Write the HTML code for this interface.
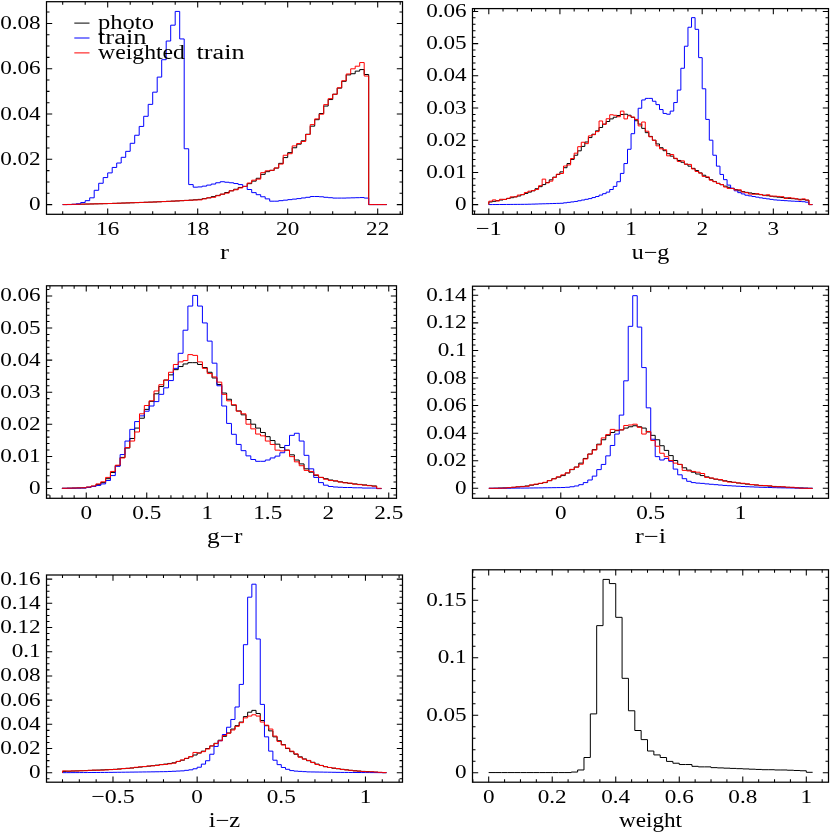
<!DOCTYPE html>
<html><head><meta charset="utf-8"><title>histograms</title>
<style>html,body{margin:0;padding:0;background:#fff;}body{width:830px;height:832px;overflow:hidden;font-family:"Liberation Serif",serif;}</style>
</head><body>
<svg width="830" height="832" viewBox="0 0 830 832" style="display:block;will-change:transform" font-family="'Liberation Serif', serif" font-size="19.8" fill="#000">
<rect x="0" y="0" width="830" height="832" fill="#fff"/>
<polyline fill="none" stroke="#000" stroke-width="1" stroke-linejoin="miter" points="62.70,204.60 62.70,204.57 67.20,204.57 67.20,204.47 71.70,204.47 71.70,204.36 76.20,204.36 76.20,204.26 80.70,204.26 80.70,204.15 85.20,204.15 85.20,204.05 89.70,204.05 89.70,203.95 94.20,203.95 94.20,203.84 98.70,203.84 98.70,203.74 103.20,203.74 103.20,203.63 107.70,203.63 107.70,203.53 112.20,203.53 112.20,203.37 116.70,203.37 116.70,203.22 121.20,203.22 121.20,203.06 125.70,203.06 125.70,202.91 130.20,202.91 130.20,202.75 134.70,202.75 134.70,202.60 139.20,202.60 139.20,202.44 143.70,202.44 143.70,202.28 148.20,202.28 148.20,202.13 152.70,202.13 152.70,201.97 157.20,201.97 157.20,201.77 161.70,201.77 161.70,201.56 166.20,201.56 166.20,201.35 170.70,201.35 170.70,201.14 175.20,201.14 175.20,200.93 179.70,200.93 179.70,200.67 184.20,200.67 184.20,200.42 188.70,200.42 188.70,200.16 193.20,200.16 193.20,199.77 197.70,199.77 197.70,199.38 202.20,199.38 202.20,198.60 206.70,198.60 206.70,197.82 211.20,197.82 211.20,196.61 215.70,196.61 215.70,195.40 220.20,195.40 220.20,194.18 224.70,194.18 224.70,192.50 229.20,192.50 229.20,190.81 233.70,190.81 233.70,189.25 238.20,189.25 238.20,187.44 242.70,187.44 242.70,186.46 247.20,186.46 247.20,183.67 251.70,183.67 251.70,181.14 256.20,181.14 256.20,178.28 260.70,178.28 260.70,174.33 265.20,174.33 265.20,171.66 269.70,171.66 269.70,170.37 274.20,170.37 274.20,168.09 278.70,168.09 278.70,163.36 283.20,163.36 283.20,157.58 287.70,157.58 287.70,152.65 292.20,152.65 292.20,147.78 296.70,147.78 296.70,144.15 301.20,144.15 301.20,140.77 305.70,140.77 305.70,134.28 310.20,134.28 310.20,126.17 314.70,126.17 314.70,119.68 319.20,119.68 319.20,113.51 323.70,113.51 323.70,106.05 328.20,106.05 328.20,99.56 332.70,99.56 332.70,94.24 337.20,94.24 337.20,88.14 341.70,88.14 341.70,81.32 346.20,81.32 346.20,74.90 350.70,74.90 350.70,73.73 355.20,73.73 355.20,71.13 359.70,71.13 359.70,69.57 364.20,69.57 364.20,74.51 368.70,74.51 368.70,204.57 373.20,204.57 373.20,204.57 377.70,204.57 377.70,204.57 382.20,204.57 382.20,204.57 386.70,204.57"/>
<polyline fill="none" stroke="#0000ff" stroke-width="1" stroke-linejoin="miter" points="62.70,204.60 62.70,204.57 67.20,204.57 67.20,204.57 71.70,204.57 71.70,204.31 76.20,204.31 76.20,203.79 80.70,203.79 80.70,202.49 85.20,202.49 85.20,200.67 89.70,200.67 89.70,197.82 94.20,197.82 94.20,190.29 98.70,190.29 98.70,183.28 103.20,183.28 103.20,177.57 107.70,177.57 107.70,172.90 112.20,172.90 112.20,167.45 116.70,167.45 116.70,163.03 121.20,163.03 121.20,157.32 125.70,157.32 125.70,151.35 130.20,151.35 130.20,143.30 134.70,143.30 134.70,135.25 139.20,135.25 139.20,126.43 143.70,126.43 143.70,116.30 148.20,116.30 148.20,104.36 152.70,104.36 152.70,92.16 157.20,92.16 157.20,77.10 161.70,77.10 161.70,59.71 166.20,59.71 166.20,41.02 170.70,41.02 170.70,25.18 175.20,25.18 175.20,11.42 179.70,11.42 179.70,38.94 184.20,38.94 184.20,148.75 188.70,148.75 188.70,184.58 193.20,184.58 193.20,187.18 197.70,187.18 197.70,186.92 202.20,186.92 202.20,186.14 206.70,186.14 206.70,185.10 211.20,185.10 211.20,184.06 215.70,184.06 215.70,182.76 220.20,182.76 220.20,181.72 224.70,181.72 224.70,182.24 229.20,182.24 229.20,182.76 233.70,182.76 233.70,183.54 238.20,183.54 238.20,184.58 242.70,184.58 242.70,186.40 247.20,186.40 247.20,189.51 251.70,189.51 251.70,192.63 256.20,192.63 256.20,194.70 260.70,194.70 260.70,196.78 265.20,196.78 265.20,198.86 269.70,198.86 269.70,201.19 274.20,201.19 274.20,201.19 278.70,201.19 278.70,200.67 283.20,200.67 283.20,200.16 287.70,200.16 287.70,199.64 292.20,199.64 292.20,199.12 296.70,199.12 296.70,198.60 301.20,198.60 301.20,197.95 305.70,197.95 305.70,197.30 310.20,197.30 310.20,196.52 314.70,196.52 314.70,196.52 319.20,196.52 319.20,196.78 323.70,196.78 323.70,197.30 328.20,197.30 328.20,197.69 332.70,197.69 332.70,198.08 337.20,198.08 337.20,198.08 341.70,198.08 341.70,198.08 346.20,198.08 346.20,197.95 350.70,197.95 350.70,197.82 355.20,197.82 355.20,197.69 359.70,197.69 359.70,197.56 364.20,197.56 364.20,198.08 368.70,198.08 368.70,204.57 373.20,204.57 373.20,204.57 377.70,204.57 377.70,204.57 382.20,204.57 382.20,204.57 386.70,204.57"/>
<polyline fill="none" stroke="#ff0000" stroke-width="1" stroke-linejoin="miter" points="62.70,204.60 62.70,204.57 67.20,204.57 67.20,204.47 71.70,204.47 71.70,204.36 76.20,204.36 76.20,204.26 80.70,204.26 80.70,204.15 85.20,204.15 85.20,204.05 89.70,204.05 89.70,203.95 94.20,203.95 94.20,203.84 98.70,203.84 98.70,203.74 103.20,203.74 103.20,203.63 107.70,203.63 107.70,203.53 112.20,203.53 112.20,203.37 116.70,203.37 116.70,203.22 121.20,203.22 121.20,203.06 125.70,203.06 125.70,202.91 130.20,202.91 130.20,202.75 134.70,202.75 134.70,202.60 139.20,202.60 139.20,202.44 143.70,202.44 143.70,202.28 148.20,202.28 148.20,202.13 152.70,202.13 152.70,201.97 157.20,201.97 157.20,201.77 161.70,201.77 161.70,201.56 166.20,201.56 166.20,201.35 170.70,201.35 170.70,201.14 175.20,201.14 175.20,200.93 179.70,200.93 179.70,200.67 184.20,200.67 184.20,200.42 188.70,200.42 188.70,200.16 193.20,200.16 193.20,200.03 197.70,200.03 197.70,199.90 202.20,199.90 202.20,198.86 206.70,198.86 206.70,197.82 211.20,197.82 211.20,197.30 215.70,197.30 215.70,195.74 220.20,195.74 220.20,194.18 224.70,194.18 224.70,193.15 229.20,193.15 229.20,190.81 233.70,190.81 233.70,189.77 238.20,189.77 238.20,187.95 242.70,187.95 242.70,186.40 247.20,186.40 247.20,183.02 251.70,183.02 251.70,180.17 256.20,180.17 256.20,179.13 260.70,179.13 260.70,172.64 265.20,172.64 265.20,170.82 269.70,170.82 269.70,170.30 274.20,170.30 274.20,167.96 278.70,167.96 278.70,164.07 283.20,164.07 283.20,155.24 287.70,155.24 287.70,153.69 292.20,153.69 292.20,145.90 296.70,145.90 296.70,143.56 301.20,143.56 301.20,141.48 305.70,141.48 305.70,134.48 310.20,134.48 310.20,124.61 314.70,124.61 314.70,118.90 319.20,118.90 319.20,114.23 323.70,114.23 323.70,104.62 328.20,104.62 328.20,98.65 332.70,98.65 332.70,94.24 337.20,94.24 337.20,87.75 341.70,87.75 341.70,80.74 346.20,80.74 346.20,73.99 350.70,73.99 350.70,68.80 355.20,68.80 355.20,66.20 359.70,66.20 359.70,62.56 364.20,62.56 364.20,76.06 368.70,76.06 368.70,204.57 373.20,204.57 373.20,204.57 377.70,204.57 377.70,204.57 382.20,204.57 382.20,204.57 386.70,204.57"/>
<path d="M62.70 214.30v-3.00M62.70 1.70v3.00M85.20 214.30v-3.00M85.20 1.70v3.00M107.70 214.30v-5.70M107.70 1.70v5.70M130.20 214.30v-3.00M130.20 1.70v3.00M152.70 214.30v-3.00M152.70 1.70v3.00M175.20 214.30v-3.00M175.20 1.70v3.00M197.70 214.30v-5.70M197.70 1.70v5.70M220.20 214.30v-3.00M220.20 1.70v3.00M242.70 214.30v-3.00M242.70 1.70v3.00M265.20 214.30v-3.00M265.20 1.70v3.00M287.70 214.30v-5.70M287.70 1.70v5.70M310.20 214.30v-3.00M310.20 1.70v3.00M332.70 214.30v-3.00M332.70 1.70v3.00M355.20 214.30v-3.00M355.20 1.70v3.00M377.70 214.30v-5.70M377.70 1.70v5.70M400.20 214.30v-3.00M400.20 1.70v3.00M46.50 204.60h5.70M402.50 204.60h-5.70M46.50 193.28h3.00M402.50 193.28h-3.00M46.50 181.95h3.00M402.50 181.95h-3.00M46.50 170.62h3.00M402.50 170.62h-3.00M46.50 159.30h5.70M402.50 159.30h-5.70M46.50 147.97h3.00M402.50 147.97h-3.00M46.50 136.65h3.00M402.50 136.65h-3.00M46.50 125.32h3.00M402.50 125.32h-3.00M46.50 114.00h5.70M402.50 114.00h-5.70M46.50 102.67h3.00M402.50 102.67h-3.00M46.50 91.35h3.00M402.50 91.35h-3.00M46.50 80.02h3.00M402.50 80.02h-3.00M46.50 68.70h5.70M402.50 68.70h-5.70M46.50 57.38h3.00M402.50 57.38h-3.00M46.50 46.05h3.00M402.50 46.05h-3.00M46.50 34.72h3.00M402.50 34.72h-3.00M46.50 23.40h5.70M402.50 23.40h-5.70M46.50 12.07h3.00M402.50 12.07h-3.00" stroke="#000" stroke-width="1.05" fill="none"/>
<rect x="46.50" y="1.70" width="356.00" height="212.60" fill="none" stroke="#000" stroke-width="1.25"/>
<text x="107.70" y="235.00" text-anchor="middle" textLength="23.17" lengthAdjust="spacingAndGlyphs">16</text>
<text x="197.70" y="235.00" text-anchor="middle" textLength="23.17" lengthAdjust="spacingAndGlyphs">18</text>
<text x="287.70" y="235.00" text-anchor="middle" textLength="23.17" lengthAdjust="spacingAndGlyphs">20</text>
<text x="377.70" y="235.00" text-anchor="middle" textLength="23.17" lengthAdjust="spacingAndGlyphs">22</text>
<text x="40.70" y="210.10" text-anchor="end" textLength="11.58" lengthAdjust="spacingAndGlyphs">0</text>
<text x="40.70" y="164.80" text-anchor="end" textLength="40.54" lengthAdjust="spacingAndGlyphs">0.02</text>
<text x="40.70" y="119.50" text-anchor="end" textLength="40.54" lengthAdjust="spacingAndGlyphs">0.04</text>
<text x="40.70" y="74.20" text-anchor="end" textLength="40.54" lengthAdjust="spacingAndGlyphs">0.06</text>
<text x="40.70" y="28.90" text-anchor="end" textLength="40.54" lengthAdjust="spacingAndGlyphs">0.08</text>
<text x="224.50" y="258.90" font-size="20.5" text-anchor="middle" textLength="9.00" lengthAdjust="spacingAndGlyphs">r</text>
<polyline fill="none" stroke="#000" stroke-width="1" stroke-linejoin="miter" points="488.80,204.60 488.80,201.97 492.36,201.97 492.36,201.32 495.91,201.32 495.91,200.67 499.47,200.67 499.47,200.03 503.03,200.03 503.03,199.38 506.58,199.38 506.58,198.53 510.14,198.53 510.14,197.69 513.70,197.69 513.70,196.85 517.25,196.85 517.25,196.00 520.81,196.00 520.81,194.70 524.37,194.70 524.37,193.41 527.92,193.41 527.92,192.11 531.48,192.11 531.48,190.81 535.03,190.81 535.03,188.73 538.59,188.73 538.59,186.66 542.15,186.66 542.15,184.58 545.70,184.58 545.70,182.50 549.26,182.50 549.26,179.84 552.82,179.84 552.82,177.18 556.37,177.18 556.37,174.52 559.93,174.52 559.93,171.86 563.49,171.86 563.49,167.71 567.04,167.71 567.04,163.55 570.60,163.55 570.60,159.40 574.16,159.40 574.16,155.24 577.71,155.24 577.71,150.83 581.27,150.83 581.27,146.42 584.83,146.42 584.83,142.00 588.38,142.00 588.38,137.59 591.94,137.59 591.94,134.22 595.50,134.22 595.50,130.84 599.05,130.84 599.05,127.47 602.61,127.47 602.61,124.09 606.16,124.09 606.16,121.50 609.72,121.50 609.72,118.90 613.28,118.90 613.28,117.21 616.83,117.21 616.83,115.52 620.39,115.52 620.39,114.49 623.95,114.49 623.95,114.23 627.50,114.23 627.50,115.26 631.06,115.26 631.06,117.34 634.62,117.34 634.62,120.72 638.17,120.72 638.17,124.09 641.73,124.09 641.73,128.37 645.29,128.37 645.29,132.66 648.84,132.66 648.84,136.42 652.40,136.42 652.40,140.19 655.96,140.19 655.96,143.95 659.51,143.95 659.51,147.72 663.07,147.72 663.07,150.70 666.62,150.70 666.62,153.69 670.18,153.69 670.18,156.15 673.74,156.15 673.74,158.62 677.29,158.62 677.29,160.44 680.85,160.44 680.85,162.25 684.41,162.25 684.41,164.20 687.96,164.20 687.96,166.15 691.52,166.15 691.52,168.35 695.08,168.35 695.08,170.56 698.63,170.56 698.63,172.90 702.19,172.90 702.19,175.23 705.75,175.23 705.75,177.44 709.30,177.44 709.30,179.65 712.86,179.65 712.86,181.46 716.42,181.46 716.42,183.28 719.97,183.28 719.97,184.71 723.53,184.71 723.53,186.14 727.09,186.14 727.09,187.31 730.64,187.31 730.64,188.47 734.20,188.47 734.20,189.64 737.75,189.64 737.75,190.81 741.31,190.81 741.31,191.59 744.87,191.59 744.87,192.37 748.42,192.37 748.42,192.95 751.98,192.95 751.98,193.54 755.54,193.54 755.54,194.12 759.09,194.12 759.09,194.70 762.65,194.70 762.65,195.22 766.21,195.22 766.21,195.74 769.76,195.74 769.76,196.26 773.32,196.26 773.32,196.78 776.88,196.78 776.88,197.17 780.43,197.17 780.43,197.56 783.99,197.56 783.99,197.95 787.55,197.95 787.55,198.34 791.10,198.34 791.10,198.66 794.66,198.66 794.66,198.99 798.22,198.99 798.22,199.31 801.77,199.31 801.77,199.64 805.33,199.64 805.33,200.16 808.88,200.16 808.88,204.57 812.44,204.57"/>
<polyline fill="none" stroke="#0000ff" stroke-width="1" stroke-linejoin="miter" points="488.80,204.60 488.80,204.57 492.36,204.57 492.36,204.54 495.91,204.54 495.91,204.52 499.47,204.52 499.47,204.49 503.03,204.49 503.03,204.47 506.58,204.47 506.58,204.44 510.14,204.44 510.14,204.41 513.70,204.41 513.70,204.39 517.25,204.39 517.25,204.36 520.81,204.36 520.81,204.34 524.37,204.34 524.37,204.31 527.92,204.31 527.92,204.21 531.48,204.21 531.48,204.10 535.03,204.10 535.03,204.00 538.59,204.00 538.59,203.89 542.15,203.89 542.15,203.79 545.70,203.79 545.70,203.69 549.26,203.69 549.26,203.58 552.82,203.58 552.82,203.48 556.37,203.48 556.37,203.37 559.93,203.37 559.93,203.27 563.49,203.27 563.49,202.82 567.04,202.82 567.04,202.36 570.60,202.36 570.60,201.91 574.16,201.91 574.16,201.45 577.71,201.45 577.71,200.74 581.27,200.74 581.27,200.03 584.83,200.03 584.83,199.31 588.38,199.31 588.38,198.60 591.94,198.60 591.94,197.56 595.50,197.56 595.50,196.52 599.05,196.52 599.05,195.09 602.61,195.09 602.61,193.67 606.16,193.67 606.16,192.11 609.72,192.11 609.72,189.51 613.28,189.51 613.28,186.40 616.83,186.40 616.83,181.72 620.39,181.72 620.39,173.42 623.95,173.42 623.95,163.55 627.50,163.55 627.50,149.27 631.06,149.27 631.06,133.70 634.62,133.70 634.62,119.42 638.17,119.42 638.17,108.26 641.73,108.26 641.73,99.95 645.29,99.95 645.29,98.39 648.84,98.39 648.84,98.39 652.40,98.39 652.40,101.25 655.96,101.25 655.96,104.62 659.51,104.62 659.51,109.55 663.07,109.55 663.07,113.45 666.62,113.45 666.62,114.23 670.18,114.23 670.18,111.11 673.74,111.11 673.74,102.54 677.29,102.54 677.29,90.08 680.85,90.08 680.85,68.28 684.41,68.28 684.41,46.21 687.96,46.21 687.96,27.26 691.52,27.26 691.52,17.65 695.08,17.65 695.08,29.34 698.63,29.34 698.63,57.63 702.19,57.63 702.19,88.79 705.75,88.79 705.75,119.42 709.30,119.42 709.30,140.19 712.86,140.19 712.86,155.24 716.42,155.24 716.42,166.15 719.97,166.15 719.97,174.45 723.53,174.45 723.53,179.65 727.09,179.65 727.09,185.10 730.64,185.10 730.64,188.21 734.20,188.21 734.20,190.81 737.75,190.81 737.75,192.63 741.31,192.63 741.31,193.93 744.87,193.93 744.87,195.22 748.42,195.22 748.42,195.87 751.98,195.87 751.98,196.52 755.54,196.52 755.54,197.17 759.09,197.17 759.09,197.82 762.65,197.82 762.65,198.34 766.21,198.34 766.21,198.86 769.76,198.86 769.76,199.38 773.32,199.38 773.32,199.90 776.88,199.90 776.88,200.16 780.43,200.16 780.43,200.42 783.99,200.42 783.99,200.67 787.55,200.67 787.55,200.93 791.10,200.93 791.10,201.13 794.66,201.13 794.66,201.32 798.22,201.32 798.22,201.52 801.77,201.52 801.77,201.71 805.33,201.71 805.33,202.23 808.88,202.23 808.88,204.57 812.44,204.57"/>
<polyline fill="none" stroke="#ff0000" stroke-width="1" stroke-linejoin="miter" points="488.80,204.60 488.80,201.19 492.36,201.19 492.36,199.90 495.91,199.90 495.91,200.94 499.47,200.94 499.47,199.25 503.03,199.25 503.03,199.44 506.58,199.44 506.58,198.28 510.14,198.28 510.14,196.83 513.70,196.83 513.70,196.86 517.25,196.86 517.25,195.06 520.81,195.06 520.81,194.56 524.37,194.56 524.37,192.46 527.92,192.46 527.92,191.18 531.48,191.18 531.48,190.63 535.03,190.63 535.03,189.54 538.59,189.54 538.59,185.69 542.15,185.69 542.15,179.13 545.70,179.13 545.70,182.86 549.26,182.86 549.26,181.17 552.82,181.17 552.82,177.42 556.37,177.42 556.37,174.18 559.93,174.18 559.93,173.49 563.49,173.49 563.49,166.04 567.04,166.04 567.04,164.95 570.60,164.95 570.60,158.53 574.16,158.53 574.16,153.17 577.71,153.17 577.71,146.68 581.27,146.68 581.27,142.26 584.83,142.26 584.83,143.63 588.38,143.63 588.38,135.87 591.94,135.87 591.94,134.67 595.50,134.67 595.50,131.64 599.05,131.64 599.05,120.98 602.61,120.98 602.61,124.39 606.16,124.39 606.16,118.74 609.72,118.74 609.72,114.75 613.28,114.75 613.28,115.29 616.83,115.29 616.83,116.72 620.39,116.72 620.39,111.11 623.95,111.11 623.95,118.90 627.50,118.90 627.50,115.83 631.06,115.83 631.06,117.04 634.62,117.04 634.62,119.45 638.17,119.45 638.17,125.90 641.73,125.90 641.73,122.01 645.29,122.01 645.29,131.21 648.84,131.21 648.84,136.83 652.40,136.83 652.40,140.32 655.96,140.32 655.96,145.83 659.51,145.83 659.51,148.82 663.07,148.82 663.07,149.72 666.62,149.72 666.62,155.83 670.18,155.83 670.18,154.50 673.74,154.50 673.74,158.28 677.29,158.28 677.29,161.49 680.85,161.49 680.85,160.87 684.41,160.87 684.41,164.16 687.96,164.16 687.96,164.42 691.52,164.42 691.52,168.96 695.08,168.96 695.08,171.49 698.63,171.49 698.63,173.14 702.19,173.14 702.19,176.45 705.75,176.45 705.75,176.86 709.30,176.86 709.30,180.23 712.86,180.23 712.86,181.74 716.42,181.74 716.42,183.50 719.97,183.50 719.97,184.59 723.53,184.59 723.53,187.02 727.09,187.02 727.09,188.44 730.64,188.44 730.64,188.41 734.20,188.41 734.20,190.04 737.75,190.04 737.75,189.78 741.31,189.78 741.31,192.05 744.87,192.05 744.87,192.70 748.42,192.70 748.42,194.05 751.98,194.05 751.98,194.24 755.54,194.24 755.54,193.66 759.09,193.66 759.09,194.46 762.65,194.46 762.65,195.58 766.21,195.58 766.21,194.76 769.76,194.76 769.76,196.18 773.32,196.18 773.32,196.12 776.88,196.12 776.88,196.41 780.43,196.41 780.43,196.70 783.99,196.70 783.99,198.47 787.55,198.47 787.55,197.63 791.10,197.63 791.10,198.18 794.66,198.18 794.66,198.78 798.22,198.78 798.22,200.00 801.77,200.00 801.77,198.87 805.33,198.87 805.33,200.06 808.88,200.06 808.88,204.57 812.44,204.57"/>
<path d="M474.57 214.30v-3.00M474.57 8.60v3.00M488.80 214.30v-5.70M488.80 8.60v5.70M503.03 214.30v-3.00M503.03 8.60v3.00M517.25 214.30v-3.00M517.25 8.60v3.00M531.48 214.30v-3.00M531.48 8.60v3.00M545.70 214.30v-3.00M545.70 8.60v3.00M559.93 214.30v-5.70M559.93 8.60v5.70M574.16 214.30v-3.00M574.16 8.60v3.00M588.38 214.30v-3.00M588.38 8.60v3.00M602.61 214.30v-3.00M602.61 8.60v3.00M616.83 214.30v-3.00M616.83 8.60v3.00M631.06 214.30v-5.70M631.06 8.60v5.70M645.29 214.30v-3.00M645.29 8.60v3.00M659.51 214.30v-3.00M659.51 8.60v3.00M673.74 214.30v-3.00M673.74 8.60v3.00M687.96 214.30v-3.00M687.96 8.60v3.00M702.19 214.30v-5.70M702.19 8.60v5.70M716.42 214.30v-3.00M716.42 8.60v3.00M730.64 214.30v-3.00M730.64 8.60v3.00M744.87 214.30v-3.00M744.87 8.60v3.00M759.09 214.30v-3.00M759.09 8.60v3.00M773.32 214.30v-5.70M773.32 8.60v5.70M787.55 214.30v-3.00M787.55 8.60v3.00M801.77 214.30v-3.00M801.77 8.60v3.00M816.00 214.30v-3.00M816.00 8.60v3.00M472.50 211.04h3.00M828.50 211.04h-3.00M472.50 204.60h5.70M828.50 204.60h-5.70M472.50 198.16h3.00M828.50 198.16h-3.00M472.50 191.72h3.00M828.50 191.72h-3.00M472.50 185.28h3.00M828.50 185.28h-3.00M472.50 178.84h3.00M828.50 178.84h-3.00M472.50 172.40h5.70M828.50 172.40h-5.70M472.50 165.96h3.00M828.50 165.96h-3.00M472.50 159.52h3.00M828.50 159.52h-3.00M472.50 153.08h3.00M828.50 153.08h-3.00M472.50 146.64h3.00M828.50 146.64h-3.00M472.50 140.20h5.70M828.50 140.20h-5.70M472.50 133.76h3.00M828.50 133.76h-3.00M472.50 127.32h3.00M828.50 127.32h-3.00M472.50 120.88h3.00M828.50 120.88h-3.00M472.50 114.44h3.00M828.50 114.44h-3.00M472.50 108.00h5.70M828.50 108.00h-5.70M472.50 101.56h3.00M828.50 101.56h-3.00M472.50 95.12h3.00M828.50 95.12h-3.00M472.50 88.68h3.00M828.50 88.68h-3.00M472.50 82.24h3.00M828.50 82.24h-3.00M472.50 75.80h5.70M828.50 75.80h-5.70M472.50 69.36h3.00M828.50 69.36h-3.00M472.50 62.92h3.00M828.50 62.92h-3.00M472.50 56.48h3.00M828.50 56.48h-3.00M472.50 50.04h3.00M828.50 50.04h-3.00M472.50 43.60h5.70M828.50 43.60h-5.70M472.50 37.16h3.00M828.50 37.16h-3.00M472.50 30.72h3.00M828.50 30.72h-3.00M472.50 24.28h3.00M828.50 24.28h-3.00M472.50 17.84h3.00M828.50 17.84h-3.00M472.50 11.40h5.70M828.50 11.40h-5.70" stroke="#000" stroke-width="1.05" fill="none"/>
<rect x="472.50" y="8.60" width="356.00" height="205.70" fill="none" stroke="#000" stroke-width="1.25"/>
<text x="488.80" y="235.00" text-anchor="middle" textLength="25.95" lengthAdjust="spacingAndGlyphs">−1</text>
<text x="559.93" y="235.00" text-anchor="middle" textLength="11.58" lengthAdjust="spacingAndGlyphs">0</text>
<text x="631.06" y="235.00" text-anchor="middle" textLength="11.58" lengthAdjust="spacingAndGlyphs">1</text>
<text x="702.19" y="235.00" text-anchor="middle" textLength="11.58" lengthAdjust="spacingAndGlyphs">2</text>
<text x="773.32" y="235.00" text-anchor="middle" textLength="11.58" lengthAdjust="spacingAndGlyphs">3</text>
<text x="466.70" y="210.10" text-anchor="end" textLength="11.58" lengthAdjust="spacingAndGlyphs">0</text>
<text x="466.70" y="177.90" text-anchor="end" textLength="40.54" lengthAdjust="spacingAndGlyphs">0.01</text>
<text x="466.70" y="145.70" text-anchor="end" textLength="40.54" lengthAdjust="spacingAndGlyphs">0.02</text>
<text x="466.70" y="113.50" text-anchor="end" textLength="40.54" lengthAdjust="spacingAndGlyphs">0.03</text>
<text x="466.70" y="81.30" text-anchor="end" textLength="40.54" lengthAdjust="spacingAndGlyphs">0.04</text>
<text x="466.70" y="49.10" text-anchor="end" textLength="40.54" lengthAdjust="spacingAndGlyphs">0.05</text>
<text x="466.70" y="16.90" text-anchor="end" textLength="40.54" lengthAdjust="spacingAndGlyphs">0.06</text>
<text x="650.50" y="258.90" font-size="20.5" text-anchor="middle" textLength="37.60" lengthAdjust="spacingAndGlyphs">u−g</text>
<polyline fill="none" stroke="#000" stroke-width="1" stroke-linejoin="miter" points="62.05,488.50 62.05,488.31 66.89,488.31 66.89,488.18 71.73,488.18 71.73,488.05 76.57,488.05 76.57,487.92 81.41,487.92 81.41,487.79 86.25,487.79 86.25,487.27 91.09,487.27 91.09,486.23 95.93,486.23 95.93,484.67 100.77,484.67 100.77,482.60 105.61,482.60 105.61,478.70 110.45,478.70 110.45,472.47 115.29,472.47 115.29,465.72 120.13,465.72 120.13,457.42 124.97,457.42 124.97,448.07 129.81,448.07 129.81,438.47 134.65,438.47 134.65,428.08 139.49,428.08 139.49,418.22 144.33,418.22 144.33,409.39 149.17,409.39 149.17,401.34 154.01,401.34 154.01,393.81 158.85,393.81 158.85,386.54 163.69,386.54 163.69,380.05 168.53,380.05 168.53,374.86 173.37,374.86 173.37,369.67 178.21,369.67 178.21,366.55 183.05,366.55 183.05,363.96 187.89,363.96 187.89,362.66 192.73,362.66 192.73,362.66 197.57,362.66 197.57,364.48 202.41,364.48 202.41,367.59 207.25,367.59 207.25,372.27 212.09,372.27 212.09,377.98 216.93,377.98 216.93,384.47 221.77,384.47 221.77,393.03 226.61,393.03 226.61,399.26 231.45,399.26 231.45,405.24 236.29,405.24 236.29,410.95 241.13,410.95 241.13,414.84 245.97,414.84 245.97,419.51 250.81,419.51 250.81,424.19 255.65,424.19 255.65,428.08 260.49,428.08 260.49,432.49 265.33,432.49 265.33,436.65 270.17,436.65 270.17,440.54 275.01,440.54 275.01,444.18 279.85,444.18 279.85,447.55 284.69,447.55 284.69,450.15 289.53,450.15 289.53,454.82 294.37,454.82 294.37,460.01 299.21,460.01 299.21,463.91 304.05,463.91 304.05,468.84 308.89,468.84 308.89,472.21 313.73,472.21 313.73,475.33 318.57,475.33 318.57,477.41 323.41,477.41 323.41,478.70 328.25,478.70 328.25,480.00 333.09,480.00 333.09,481.04 337.93,481.04 337.93,481.82 342.77,481.82 342.77,482.60 347.61,482.60 347.61,483.38 352.45,483.38 352.45,483.90 357.29,483.90 357.29,484.42 362.13,484.42 362.13,484.93 366.97,484.93 366.97,485.45 371.81,485.45 371.81,485.97 376.65,485.97 376.65,488.57 381.49,488.57"/>
<polyline fill="none" stroke="#0000ff" stroke-width="1" stroke-linejoin="miter" points="62.05,488.50 62.05,488.31 66.89,488.31 66.89,488.24 71.73,488.24 71.73,488.18 76.57,488.18 76.57,488.11 81.41,488.11 81.41,488.05 86.25,488.05 86.25,487.27 91.09,487.27 91.09,486.49 95.93,486.49 95.93,485.45 100.77,485.45 100.77,483.90 105.61,483.90 105.61,480.52 110.45,480.52 110.45,475.59 115.29,475.59 115.29,466.24 120.13,466.24 120.13,454.56 124.97,454.56 124.97,441.06 129.81,441.06 129.81,429.38 134.65,429.38 134.65,421.59 139.49,421.59 139.49,415.88 144.33,415.88 144.33,411.21 149.17,411.21 149.17,406.01 154.01,406.01 154.01,401.60 158.85,401.60 158.85,394.33 163.69,394.33 163.69,387.84 168.53,387.84 168.53,380.57 173.37,380.57 173.37,368.37 178.21,368.37 178.21,353.31 183.05,353.31 183.05,330.21 187.89,330.21 187.89,306.07 192.73,306.07 192.73,295.42 197.57,295.42 197.57,306.07 202.41,306.07 202.41,322.94 207.25,322.94 207.25,341.11 212.09,341.11 212.09,363.18 216.93,363.18 216.93,385.77 221.77,385.77 221.77,406.01 226.61,406.01 226.61,423.41 231.45,423.41 231.45,434.31 236.29,434.31 236.29,444.44 241.13,444.44 241.13,450.67 245.97,450.67 245.97,455.86 250.81,455.86 250.81,459.49 255.65,459.49 255.65,461.31 260.49,461.31 260.49,461.31 265.33,461.31 265.33,460.01 270.17,460.01 270.17,457.94 275.01,457.94 275.01,456.12 279.85,456.12 279.85,452.74 284.69,452.74 284.69,445.47 289.53,445.47 289.53,435.35 294.37,435.35 294.37,433.27 299.21,433.27 299.21,441.06 304.05,441.06 304.05,455.34 308.89,455.34 308.89,468.84 313.73,468.84 313.73,477.41 318.57,477.41 318.57,482.60 323.41,482.60 323.41,485.19 328.25,485.19 328.25,486.49 333.09,486.49 333.09,487.01 337.93,487.01 337.93,487.27 342.77,487.27 342.77,487.53 347.61,487.53 347.61,487.53 352.45,487.53 352.45,487.79 357.29,487.79 357.29,487.79 362.13,487.79 362.13,488.05 366.97,488.05 366.97,488.05 371.81,488.05 371.81,488.05 376.65,488.05 376.65,488.57 381.49,488.57"/>
<polyline fill="none" stroke="#ff0000" stroke-width="1" stroke-linejoin="miter" points="62.05,488.50 62.05,488.31 66.89,488.31 66.89,488.18 71.73,488.18 71.73,488.05 76.57,488.05 76.57,487.92 81.41,487.92 81.41,487.79 86.25,487.79 86.25,487.01 91.09,487.01 91.09,485.97 95.93,485.97 95.93,483.90 100.77,483.90 100.77,481.82 105.61,481.82 105.61,477.41 110.45,477.41 110.45,471.44 115.29,471.44 115.29,465.20 120.13,465.20 120.13,457.94 124.97,457.94 124.97,447.55 129.81,447.55 129.81,441.06 134.65,441.06 134.65,431.98 139.49,431.98 139.49,413.80 144.33,413.80 144.33,405.50 149.17,405.50 149.17,400.82 154.01,400.82 154.01,390.96 158.85,390.96 158.85,384.73 163.69,384.73 163.69,380.05 168.53,380.05 168.53,372.27 173.37,372.27 173.37,364.48 178.21,364.48 178.21,361.88 183.05,361.88 183.05,360.58 187.89,360.58 187.89,354.61 192.73,354.61 192.73,355.39 197.57,355.39 197.57,361.88 202.41,361.88 202.41,368.37 207.25,368.37 207.25,373.56 212.09,373.56 212.09,376.94 216.93,376.94 216.93,382.13 221.77,382.13 221.77,394.33 226.61,394.33 226.61,400.82 231.45,400.82 231.45,404.72 236.29,404.72 236.29,411.21 241.13,411.21 241.13,413.80 245.97,413.80 245.97,424.19 250.81,424.19 250.81,428.86 255.65,428.86 255.65,434.05 260.49,434.05 260.49,435.87 265.33,435.87 265.33,441.06 270.17,441.06 270.17,444.44 275.01,444.44 275.01,450.15 279.85,450.15 279.85,450.93 284.69,450.93 284.69,450.15 289.53,450.15 289.53,456.64 294.37,456.64 294.37,461.83 299.21,461.83 299.21,465.72 304.05,465.72 304.05,470.40 308.89,470.40 308.89,471.44 313.73,471.44 313.73,474.81 318.57,474.81 318.57,477.41 323.41,477.41 323.41,479.22 328.25,479.22 328.25,480.52 333.09,480.52 333.09,480.78 337.93,480.78 337.93,482.08 342.77,482.08 342.77,482.86 347.61,482.86 347.61,483.12 352.45,483.12 352.45,484.16 357.29,484.16 357.29,484.67 362.13,484.67 362.13,485.19 366.97,485.19 366.97,485.71 371.81,485.71 371.81,486.23 376.65,486.23 376.65,488.31 381.49,488.31"/>
<path d="M49.95 498.30v-3.00M49.95 285.80v3.00M62.05 498.30v-3.00M62.05 285.80v3.00M74.15 498.30v-3.00M74.15 285.80v3.00M86.25 498.30v-5.70M86.25 285.80v5.70M98.35 498.30v-3.00M98.35 285.80v3.00M110.45 498.30v-3.00M110.45 285.80v3.00M122.55 498.30v-3.00M122.55 285.80v3.00M134.65 498.30v-3.00M134.65 285.80v3.00M146.75 498.30v-5.70M146.75 285.80v5.70M158.85 498.30v-3.00M158.85 285.80v3.00M170.95 498.30v-3.00M170.95 285.80v3.00M183.05 498.30v-3.00M183.05 285.80v3.00M195.15 498.30v-3.00M195.15 285.80v3.00M207.25 498.30v-5.70M207.25 285.80v5.70M219.35 498.30v-3.00M219.35 285.80v3.00M231.45 498.30v-3.00M231.45 285.80v3.00M243.55 498.30v-3.00M243.55 285.80v3.00M255.65 498.30v-3.00M255.65 285.80v3.00M267.75 498.30v-5.70M267.75 285.80v5.70M279.85 498.30v-3.00M279.85 285.80v3.00M291.95 498.30v-3.00M291.95 285.80v3.00M304.05 498.30v-3.00M304.05 285.80v3.00M316.15 498.30v-3.00M316.15 285.80v3.00M328.25 498.30v-5.70M328.25 285.80v5.70M340.35 498.30v-3.00M340.35 285.80v3.00M352.45 498.30v-3.00M352.45 285.80v3.00M364.55 498.30v-3.00M364.55 285.80v3.00M376.65 498.30v-3.00M376.65 285.80v3.00M388.75 498.30v-5.70M388.75 285.80v5.70M46.50 494.92h3.00M396.50 494.92h-3.00M46.50 488.50h5.70M396.50 488.50h-5.70M46.50 482.08h3.00M396.50 482.08h-3.00M46.50 475.66h3.00M396.50 475.66h-3.00M46.50 469.24h3.00M396.50 469.24h-3.00M46.50 462.82h3.00M396.50 462.82h-3.00M46.50 456.40h5.70M396.50 456.40h-5.70M46.50 449.98h3.00M396.50 449.98h-3.00M46.50 443.56h3.00M396.50 443.56h-3.00M46.50 437.14h3.00M396.50 437.14h-3.00M46.50 430.72h3.00M396.50 430.72h-3.00M46.50 424.30h5.70M396.50 424.30h-5.70M46.50 417.88h3.00M396.50 417.88h-3.00M46.50 411.46h3.00M396.50 411.46h-3.00M46.50 405.04h3.00M396.50 405.04h-3.00M46.50 398.62h3.00M396.50 398.62h-3.00M46.50 392.20h5.70M396.50 392.20h-5.70M46.50 385.78h3.00M396.50 385.78h-3.00M46.50 379.36h3.00M396.50 379.36h-3.00M46.50 372.94h3.00M396.50 372.94h-3.00M46.50 366.52h3.00M396.50 366.52h-3.00M46.50 360.10h5.70M396.50 360.10h-5.70M46.50 353.68h3.00M396.50 353.68h-3.00M46.50 347.26h3.00M396.50 347.26h-3.00M46.50 340.84h3.00M396.50 340.84h-3.00M46.50 334.42h3.00M396.50 334.42h-3.00M46.50 328.00h5.70M396.50 328.00h-5.70M46.50 321.58h3.00M396.50 321.58h-3.00M46.50 315.16h3.00M396.50 315.16h-3.00M46.50 308.74h3.00M396.50 308.74h-3.00M46.50 302.32h3.00M396.50 302.32h-3.00M46.50 295.90h5.70M396.50 295.90h-5.70M46.50 289.48h3.00M396.50 289.48h-3.00" stroke="#000" stroke-width="1.05" fill="none"/>
<rect x="46.50" y="285.80" width="350.00" height="212.50" fill="none" stroke="#000" stroke-width="1.25"/>
<text x="86.25" y="519.00" text-anchor="middle" textLength="11.58" lengthAdjust="spacingAndGlyphs">0</text>
<text x="146.75" y="519.00" text-anchor="middle" textLength="28.96" lengthAdjust="spacingAndGlyphs">0.5</text>
<text x="207.25" y="519.00" text-anchor="middle" textLength="11.58" lengthAdjust="spacingAndGlyphs">1</text>
<text x="267.75" y="519.00" text-anchor="middle" textLength="28.96" lengthAdjust="spacingAndGlyphs">1.5</text>
<text x="328.25" y="519.00" text-anchor="middle" textLength="11.58" lengthAdjust="spacingAndGlyphs">2</text>
<text x="388.75" y="519.00" text-anchor="middle" textLength="28.96" lengthAdjust="spacingAndGlyphs">2.5</text>
<text x="40.70" y="494.00" text-anchor="end" textLength="11.58" lengthAdjust="spacingAndGlyphs">0</text>
<text x="40.70" y="461.90" text-anchor="end" textLength="40.54" lengthAdjust="spacingAndGlyphs">0.01</text>
<text x="40.70" y="429.80" text-anchor="end" textLength="40.54" lengthAdjust="spacingAndGlyphs">0.02</text>
<text x="40.70" y="397.70" text-anchor="end" textLength="40.54" lengthAdjust="spacingAndGlyphs">0.03</text>
<text x="40.70" y="365.60" text-anchor="end" textLength="40.54" lengthAdjust="spacingAndGlyphs">0.04</text>
<text x="40.70" y="333.50" text-anchor="end" textLength="40.54" lengthAdjust="spacingAndGlyphs">0.05</text>
<text x="40.70" y="301.40" text-anchor="end" textLength="40.54" lengthAdjust="spacingAndGlyphs">0.06</text>
<text x="224.70" y="542.90" font-size="20.5" text-anchor="middle" textLength="35.40" lengthAdjust="spacingAndGlyphs">g−r</text>
<polyline fill="none" stroke="#000" stroke-width="1" stroke-linejoin="miter" points="488.85,488.30 488.85,488.31 493.35,488.31 493.35,488.18 497.84,488.18 497.84,488.05 502.34,488.05 502.34,487.92 506.84,487.92 506.84,487.79 511.33,487.79 511.33,487.34 515.83,487.34 515.83,486.88 520.32,486.88 520.32,486.43 524.82,486.43 524.82,485.97 529.32,485.97 529.32,485.19 533.81,485.19 533.81,484.42 538.31,484.42 538.31,483.51 542.81,483.51 542.81,482.60 547.30,482.60 547.30,480.65 551.80,480.65 551.80,478.70 556.29,478.70 556.29,477.15 560.79,477.15 560.79,475.59 565.29,475.59 565.29,472.99 569.78,472.99 569.78,469.62 574.28,469.62 574.28,467.02 578.77,467.02 578.77,463.13 583.27,463.13 583.27,458.45 587.77,458.45 587.77,454.04 592.26,454.04 592.26,449.63 596.76,449.63 596.76,444.18 601.26,444.18 601.26,439.76 605.75,439.76 605.75,435.35 610.25,435.35 610.25,432.49 614.75,432.49 614.75,430.68 619.24,430.68 619.24,429.90 623.74,429.90 623.74,428.08 628.23,428.08 628.23,426.78 632.73,426.78 632.73,425.74 637.23,425.74 637.23,426.78 641.72,426.78 641.72,428.08 646.22,428.08 646.22,431.98 650.72,431.98 650.72,435.35 655.21,435.35 655.21,439.76 659.71,439.76 659.71,445.73 664.20,445.73 664.20,450.41 668.70,450.41 668.70,455.60 673.20,455.60 673.20,460.53 677.69,460.53 677.69,464.43 682.19,464.43 682.19,467.80 686.69,467.80 686.69,470.14 691.18,470.14 691.18,472.21 695.68,472.21 695.68,474.03 700.17,474.03 700.17,475.59 704.67,475.59 704.67,476.89 709.17,476.89 709.17,478.18 713.66,478.18 713.66,479.22 718.16,479.22 718.16,480.00 722.65,480.00 722.65,480.78 727.15,480.78 727.15,481.56 731.65,481.56 731.65,482.34 736.14,482.34 736.14,482.99 740.64,482.99 740.64,483.64 745.14,483.64 745.14,484.16 749.63,484.16 749.63,484.67 754.13,484.67 754.13,485.06 758.62,485.06 758.62,485.45 763.12,485.45 763.12,485.78 767.62,485.78 767.62,486.10 772.11,486.10 772.11,486.43 776.61,486.43 776.61,486.75 781.11,486.75 781.11,487.01 785.60,487.01 785.60,487.27 790.10,487.27 790.10,487.53 794.60,487.53 794.60,487.79 799.09,487.79 799.09,487.96 803.59,487.96 803.59,488.14 808.08,488.14 808.08,488.31 812.58,488.31"/>
<polyline fill="none" stroke="#0000ff" stroke-width="1" stroke-linejoin="miter" points="488.85,488.30 488.85,488.31 493.35,488.31 493.35,488.28 497.84,488.28 497.84,488.24 502.34,488.24 502.34,488.21 506.84,488.21 506.84,488.18 511.33,488.18 511.33,488.15 515.83,488.15 515.83,488.11 520.32,488.11 520.32,488.08 524.82,488.08 524.82,488.05 529.32,488.05 529.32,487.98 533.81,487.98 533.81,487.92 538.31,487.92 538.31,487.86 542.81,487.86 542.81,487.79 547.30,487.79 547.30,487.73 551.80,487.73 551.80,487.66 556.29,487.66 556.29,487.60 560.79,487.60 560.79,487.53 565.29,487.53 565.29,487.27 569.78,487.27 569.78,486.75 574.28,486.75 574.28,485.97 578.77,485.97 578.77,484.67 583.27,484.67 583.27,482.60 587.77,482.60 587.77,480.00 592.26,480.00 592.26,476.11 596.76,476.11 596.76,469.62 601.26,469.62 601.26,464.43 605.75,464.43 605.75,455.86 610.25,455.86 610.25,445.47 614.75,445.47 614.75,434.05 619.24,434.05 619.24,415.10 623.74,415.10 623.74,380.83 628.23,380.83 628.23,326.32 632.73,326.32 632.73,295.68 637.23,295.68 637.23,327.09 641.72,327.09 641.72,367.59 646.22,367.59 646.22,407.83 650.72,407.83 650.72,439.24 655.21,439.24 655.21,456.64 659.71,456.64 659.71,460.01 664.20,460.01 664.20,458.45 668.70,458.45 668.70,461.31 673.20,461.31 673.20,469.10 677.69,469.10 677.69,474.81 682.19,474.81 682.19,478.70 686.69,478.70 686.69,481.30 691.18,481.30 691.18,482.60 695.68,482.60 695.68,483.12 700.17,483.12 700.17,483.38 704.67,483.38 704.67,483.90 709.17,483.90 709.17,484.29 713.66,484.29 713.66,484.67 718.16,484.67 718.16,485.06 722.65,485.06 722.65,485.45 727.15,485.45 727.15,485.71 731.65,485.71 731.65,485.97 736.14,485.97 736.14,486.23 740.64,486.23 740.64,486.49 745.14,486.49 745.14,486.69 749.63,486.69 749.63,486.88 754.13,486.88 754.13,487.08 758.62,487.08 758.62,487.27 763.12,487.27 763.12,487.40 767.62,487.40 767.62,487.53 772.11,487.53 772.11,487.66 776.61,487.66 776.61,487.79 781.11,487.79 781.11,487.86 785.60,487.86 785.60,487.94 790.10,487.94 790.10,488.01 794.60,488.01 794.60,488.09 799.09,488.09 799.09,488.16 803.59,488.16 803.59,488.24 808.08,488.24 808.08,488.31 812.58,488.31"/>
<polyline fill="none" stroke="#ff0000" stroke-width="1" stroke-linejoin="miter" points="488.85,488.30 488.85,488.34 493.35,488.34 493.35,488.39 497.84,488.39 497.84,488.23 502.34,488.23 502.34,488.13 506.84,488.13 506.84,487.66 511.33,487.66 511.33,487.28 515.83,487.28 515.83,486.79 520.32,486.79 520.32,486.69 524.82,486.69 524.82,486.30 529.32,486.30 529.32,484.92 533.81,484.92 533.81,484.15 538.31,484.15 538.31,483.27 542.81,483.27 542.81,482.34 547.30,482.34 547.30,480.63 551.80,480.63 551.80,478.82 556.29,478.82 556.29,476.82 560.79,476.82 560.79,474.85 565.29,474.85 565.29,472.86 569.78,472.86 569.78,469.36 574.28,469.36 574.28,467.16 578.77,467.16 578.77,464.23 583.27,464.23 583.27,458.98 587.77,458.98 587.77,454.09 592.26,454.09 592.26,450.03 596.76,450.03 596.76,444.85 601.26,444.85 601.26,437.90 605.75,437.90 605.75,434.57 610.25,434.57 610.25,429.38 614.75,429.38 614.75,430.16 619.24,430.16 619.24,429.90 623.74,429.90 623.74,425.48 628.23,425.48 628.23,424.97 632.73,424.97 632.73,424.19 637.23,424.19 637.23,427.30 641.72,427.30 641.72,434.05 646.22,434.05 646.22,431.46 650.72,431.46 650.72,440.54 655.21,440.54 655.21,446.25 659.71,446.25 659.71,453.26 664.20,453.26 664.20,456.64 668.70,456.64 668.70,460.53 673.20,460.53 673.20,463.13 677.69,463.13 677.69,464.43 682.19,464.43 682.19,470.40 686.69,470.40 686.69,470.92 691.18,470.92 691.18,471.44 695.68,471.44 695.68,472.21 700.17,472.21 700.17,473.51 704.67,473.51 704.67,477.41 709.17,477.41 709.17,477.99 713.66,477.99 713.66,479.06 718.16,479.06 718.16,479.56 722.65,479.56 722.65,481.17 727.15,481.17 727.15,482.07 731.65,482.07 731.65,482.30 736.14,482.30 736.14,482.97 740.64,482.97 740.64,483.27 745.14,483.27 745.14,483.82 749.63,483.82 749.63,484.55 754.13,484.55 754.13,484.88 758.62,484.88 758.62,485.70 763.12,485.70 763.12,485.53 767.62,485.53 767.62,485.77 772.11,485.77 772.11,486.73 776.61,486.73 776.61,486.77 781.11,486.77 781.11,486.79 785.60,486.79 785.60,487.30 790.10,487.30 790.10,487.25 794.60,487.25 794.60,487.81 799.09,487.81 799.09,488.23 803.59,488.23 803.59,488.34 808.08,488.34 808.08,488.42 812.58,488.42"/>
<path d="M488.85 498.30v-3.00M488.85 286.20v3.00M506.84 498.30v-3.00M506.84 286.20v3.00M524.82 498.30v-3.00M524.82 286.20v3.00M542.81 498.30v-3.00M542.81 286.20v3.00M560.79 498.30v-5.70M560.79 286.20v5.70M578.77 498.30v-3.00M578.77 286.20v3.00M596.76 498.30v-3.00M596.76 286.20v3.00M614.75 498.30v-3.00M614.75 286.20v3.00M632.73 498.30v-3.00M632.73 286.20v3.00M650.72 498.30v-5.70M650.72 286.20v5.70M668.70 498.30v-3.00M668.70 286.20v3.00M686.69 498.30v-3.00M686.69 286.20v3.00M704.67 498.30v-3.00M704.67 286.20v3.00M722.65 498.30v-3.00M722.65 286.20v3.00M740.64 498.30v-5.70M740.64 286.20v5.70M758.62 498.30v-3.00M758.62 286.20v3.00M776.61 498.30v-3.00M776.61 286.20v3.00M794.60 498.30v-3.00M794.60 286.20v3.00M812.58 498.30v-3.00M812.58 286.20v3.00M472.50 493.81h3.00M828.50 493.81h-3.00M472.50 488.30h5.70M828.50 488.30h-5.70M472.50 482.79h3.00M828.50 482.79h-3.00M472.50 477.27h3.00M828.50 477.27h-3.00M472.50 471.76h3.00M828.50 471.76h-3.00M472.50 466.24h3.00M828.50 466.24h-3.00M472.50 460.73h5.70M828.50 460.73h-5.70M472.50 455.22h3.00M828.50 455.22h-3.00M472.50 449.70h3.00M828.50 449.70h-3.00M472.50 444.19h3.00M828.50 444.19h-3.00M472.50 438.67h3.00M828.50 438.67h-3.00M472.50 433.16h5.70M828.50 433.16h-5.70M472.50 427.65h3.00M828.50 427.65h-3.00M472.50 422.13h3.00M828.50 422.13h-3.00M472.50 416.62h3.00M828.50 416.62h-3.00M472.50 411.10h3.00M828.50 411.10h-3.00M472.50 405.59h5.70M828.50 405.59h-5.70M472.50 400.08h3.00M828.50 400.08h-3.00M472.50 394.56h3.00M828.50 394.56h-3.00M472.50 389.05h3.00M828.50 389.05h-3.00M472.50 383.53h3.00M828.50 383.53h-3.00M472.50 378.02h5.70M828.50 378.02h-5.70M472.50 372.51h3.00M828.50 372.51h-3.00M472.50 366.99h3.00M828.50 366.99h-3.00M472.50 361.48h3.00M828.50 361.48h-3.00M472.50 355.96h3.00M828.50 355.96h-3.00M472.50 350.45h5.70M828.50 350.45h-5.70M472.50 344.94h3.00M828.50 344.94h-3.00M472.50 339.42h3.00M828.50 339.42h-3.00M472.50 333.91h3.00M828.50 333.91h-3.00M472.50 328.39h3.00M828.50 328.39h-3.00M472.50 322.88h5.70M828.50 322.88h-5.70M472.50 317.37h3.00M828.50 317.37h-3.00M472.50 311.85h3.00M828.50 311.85h-3.00M472.50 306.34h3.00M828.50 306.34h-3.00M472.50 300.82h3.00M828.50 300.82h-3.00M472.50 295.31h5.70M828.50 295.31h-5.70M472.50 289.80h3.00M828.50 289.80h-3.00" stroke="#000" stroke-width="1.05" fill="none"/>
<rect x="472.50" y="286.20" width="356.00" height="212.10" fill="none" stroke="#000" stroke-width="1.25"/>
<text x="560.79" y="519.00" text-anchor="middle" textLength="11.58" lengthAdjust="spacingAndGlyphs">0</text>
<text x="650.72" y="519.00" text-anchor="middle" textLength="28.96" lengthAdjust="spacingAndGlyphs">0.5</text>
<text x="740.64" y="519.00" text-anchor="middle" textLength="11.58" lengthAdjust="spacingAndGlyphs">1</text>
<text x="466.70" y="493.80" text-anchor="end" textLength="11.58" lengthAdjust="spacingAndGlyphs">0</text>
<text x="466.70" y="466.23" text-anchor="end" textLength="40.54" lengthAdjust="spacingAndGlyphs">0.02</text>
<text x="466.70" y="438.66" text-anchor="end" textLength="40.54" lengthAdjust="spacingAndGlyphs">0.04</text>
<text x="466.70" y="411.09" text-anchor="end" textLength="40.54" lengthAdjust="spacingAndGlyphs">0.06</text>
<text x="466.70" y="383.52" text-anchor="end" textLength="40.54" lengthAdjust="spacingAndGlyphs">0.08</text>
<text x="466.70" y="355.95" text-anchor="end" textLength="28.96" lengthAdjust="spacingAndGlyphs">0.1</text>
<text x="466.70" y="328.38" text-anchor="end" textLength="40.54" lengthAdjust="spacingAndGlyphs">0.12</text>
<text x="466.70" y="300.81" text-anchor="end" textLength="40.54" lengthAdjust="spacingAndGlyphs">0.14</text>
<text x="650.50" y="542.90" font-size="20.5" text-anchor="middle" textLength="31.00" lengthAdjust="spacingAndGlyphs">r−i</text>
<polyline fill="none" stroke="#000" stroke-width="1" stroke-linejoin="miter" points="62.50,772.70 62.50,771.38 66.71,771.38 66.71,771.21 70.92,771.21 70.92,771.05 75.12,771.05 75.12,770.89 79.33,770.89 79.33,770.73 83.54,770.73 83.54,770.57 87.75,770.57 87.75,770.40 91.95,770.40 91.95,770.24 96.16,770.24 96.16,770.08 100.37,770.08 100.37,769.88 104.58,769.88 104.58,769.69 108.78,769.69 108.78,769.49 112.99,769.49 112.99,769.30 117.20,769.30 117.20,768.98 121.41,768.98 121.41,768.65 125.61,768.65 125.61,768.33 129.82,768.33 129.82,768.00 134.03,768.00 134.03,767.55 138.24,767.55 138.24,767.09 142.44,767.09 142.44,766.64 146.65,766.64 146.65,766.18 150.86,766.18 150.86,765.67 155.06,765.67 155.06,765.15 159.27,765.15 159.27,764.63 163.48,764.63 163.48,764.11 167.69,764.11 167.69,763.46 171.90,763.46 171.90,762.81 176.10,762.81 176.10,761.51 180.31,761.51 180.31,760.21 184.52,760.21 184.52,758.53 188.73,758.53 188.73,756.84 192.93,756.84 192.93,755.02 197.14,755.02 197.14,752.94 201.35,752.94 201.35,751.13 205.56,751.13 205.56,748.53 209.76,748.53 209.76,745.94 213.97,745.94 213.97,743.34 218.18,743.34 218.18,740.22 222.39,740.22 222.39,736.33 226.59,736.33 226.59,732.96 230.80,732.96 230.80,729.06 235.01,729.06 235.01,725.69 239.22,725.69 239.22,722.05 243.42,722.05 243.42,716.60 247.63,716.60 247.63,712.19 251.84,712.19 251.84,710.37 256.05,710.37 256.05,713.48 260.25,713.48 260.25,720.49 264.46,720.49 264.46,725.69 268.67,725.69 268.67,730.88 272.88,730.88 272.88,736.85 277.08,736.85 277.08,740.74 281.29,740.74 281.29,744.64 285.50,744.64 285.50,748.53 289.71,748.53 289.71,751.65 293.91,751.65 293.91,754.24 298.12,754.24 298.12,756.84 302.33,756.84 302.33,758.92 306.54,758.92 306.54,760.73 310.74,760.73 310.74,762.29 314.95,762.29 314.95,764.11 319.16,764.11 319.16,765.41 323.37,765.41 323.37,766.70 327.57,766.70 327.57,767.48 331.78,767.48 331.78,768.26 335.99,768.26 335.99,768.78 340.20,768.78 340.20,769.30 344.40,769.30 344.40,769.82 348.61,769.82 348.61,770.34 352.82,770.34 352.82,770.73 357.03,770.73 357.03,771.12 361.23,771.12 361.23,771.38 365.44,771.38 365.44,771.64 369.65,771.64 369.65,771.90 373.86,771.90 373.86,772.16 378.06,772.16 378.06,772.42 382.27,772.42 382.27,772.67 386.48,772.67"/>
<polyline fill="none" stroke="#0000ff" stroke-width="1" stroke-linejoin="miter" points="62.50,772.70 62.50,772.67 66.71,772.67 66.71,772.65 70.92,772.65 70.92,772.62 75.12,772.62 75.12,772.60 79.33,772.60 79.33,772.57 83.54,772.57 83.54,772.55 87.75,772.55 87.75,772.52 91.95,772.52 91.95,772.49 96.16,772.49 96.16,772.47 100.37,772.47 100.37,772.44 104.58,772.44 104.58,772.42 108.78,772.42 108.78,772.36 112.99,772.36 112.99,772.31 117.20,772.31 117.20,772.26 121.41,772.26 121.41,772.21 125.61,772.21 125.61,772.16 129.82,772.16 129.82,772.10 134.03,772.10 134.03,772.05 138.24,772.05 138.24,772.00 142.44,772.00 142.44,771.95 146.65,771.95 146.65,771.90 150.86,771.90 150.86,771.83 155.06,771.83 155.06,771.77 159.27,771.77 159.27,771.70 163.48,771.70 163.48,771.64 167.69,771.64 167.69,771.44 171.90,771.44 171.90,771.25 176.10,771.25 176.10,771.05 180.31,771.05 180.31,770.86 184.52,770.86 184.52,770.34 188.73,770.34 188.73,769.82 192.93,769.82 192.93,768.78 197.14,768.78 197.14,767.22 201.35,767.22 201.35,764.11 205.56,764.11 205.56,760.73 209.76,760.73 209.76,754.24 213.97,754.24 213.97,746.45 218.18,746.45 218.18,740.74 222.39,740.74 222.39,734.51 226.59,734.51 226.59,727.24 230.80,727.24 230.80,719.46 235.01,719.46 235.01,706.99 239.22,706.99 239.22,684.41 243.42,684.41 243.42,644.69 247.63,644.69 247.63,597.18 251.84,597.18 251.84,584.20 256.05,584.20 256.05,638.98 260.25,638.98 260.25,704.40 264.46,704.40 264.46,736.85 268.67,736.85 268.67,751.13 272.88,751.13 272.88,760.21 277.08,760.21 277.08,764.63 281.29,764.63 281.29,767.48 285.50,767.48 285.50,769.30 289.71,769.30 289.71,770.60 293.91,770.60 293.91,771.12 298.12,771.12 298.12,771.38 302.33,771.38 302.33,771.64 306.54,771.64 306.54,771.90 310.74,771.90 310.74,771.96 314.95,771.96 314.95,772.03 319.16,772.03 319.16,772.09 323.37,772.09 323.37,772.16 327.57,772.16 327.57,772.22 331.78,772.22 331.78,772.29 335.99,772.29 335.99,772.35 340.20,772.35 340.20,772.42 344.40,772.42 344.40,772.44 348.61,772.44 348.61,772.47 352.82,772.47 352.82,772.49 357.03,772.49 357.03,772.52 361.23,772.52 361.23,772.55 365.44,772.55 365.44,772.57 369.65,772.57 369.65,772.60 373.86,772.60 373.86,772.62 378.06,772.62 378.06,772.65 382.27,772.65 382.27,772.67 386.48,772.67"/>
<polyline fill="none" stroke="#ff0000" stroke-width="1" stroke-linejoin="miter" points="62.50,772.70 62.50,770.86 66.71,770.86 66.71,771.12 70.92,771.12 70.92,770.89 75.12,770.89 75.12,771.02 79.33,771.02 79.33,770.74 83.54,770.74 83.54,770.71 87.75,770.71 87.75,770.32 91.95,770.32 91.95,770.10 96.16,770.10 96.16,770.24 100.37,770.24 100.37,770.14 104.58,770.14 104.58,769.88 108.78,769.88 108.78,769.66 112.99,769.66 112.99,769.48 117.20,769.48 117.20,769.11 121.41,769.11 121.41,768.49 125.61,768.49 125.61,768.34 129.82,768.34 129.82,767.91 134.03,767.91 134.03,767.25 138.24,767.25 138.24,766.79 142.44,766.79 142.44,766.49 146.65,766.49 146.65,766.02 150.86,766.02 150.86,765.80 155.06,765.80 155.06,765.48 159.27,765.48 159.27,764.59 163.48,764.59 163.48,764.45 167.69,764.45 167.69,763.85 171.90,763.85 171.90,763.19 176.10,763.19 176.10,761.39 180.31,761.39 180.31,759.95 184.52,759.95 184.52,758.25 188.73,758.25 188.73,756.51 192.93,756.51 192.93,752.43 197.14,752.43 197.14,753.10 201.35,753.10 201.35,751.65 205.56,751.65 205.56,749.02 209.76,749.02 209.76,745.90 213.97,745.90 213.97,743.59 218.18,743.59 218.18,740.75 222.39,740.75 222.39,735.53 226.59,735.53 226.59,733.29 230.80,733.29 230.80,729.98 235.01,729.98 235.01,726.36 239.22,726.36 239.22,722.68 243.42,722.68 243.42,717.90 247.63,717.90 247.63,716.08 251.84,716.08 251.84,714.78 256.05,714.78 256.05,716.08 260.25,716.08 260.25,722.05 264.46,722.05 264.46,725.17 268.67,725.17 268.67,729.06 272.88,729.06 272.88,736.07 277.08,736.07 277.08,741.52 281.29,741.52 281.29,744.99 285.50,744.99 285.50,748.06 289.71,748.06 289.71,751.17 293.91,751.17 293.91,753.83 298.12,753.83 298.12,757.27 302.33,757.27 302.33,759.22 306.54,759.22 306.54,760.41 310.74,760.41 310.74,762.57 314.95,762.57 314.95,764.48 319.16,764.48 319.16,765.52 323.37,765.52 323.37,766.60 327.57,766.60 327.57,767.51 331.78,767.51 331.78,768.04 335.99,768.04 335.99,768.50 340.20,768.50 340.20,769.56 344.40,769.56 344.40,769.90 348.61,769.90 348.61,770.35 352.82,770.35 352.82,770.94 357.03,770.94 357.03,771.09 361.23,771.09 361.23,771.55 365.44,771.55 365.44,771.79 369.65,771.79 369.65,771.77 373.86,771.77 373.86,772.05 378.06,772.05 378.06,772.33 382.27,772.33 382.27,772.57 386.48,772.57"/>
<path d="M62.50 782.20v-3.00M62.50 575.00v3.00M79.33 782.20v-3.00M79.33 575.00v3.00M96.16 782.20v-3.00M96.16 575.00v3.00M112.99 782.20v-5.70M112.99 575.00v5.70M129.82 782.20v-3.00M129.82 575.00v3.00M146.65 782.20v-3.00M146.65 575.00v3.00M163.48 782.20v-3.00M163.48 575.00v3.00M180.31 782.20v-3.00M180.31 575.00v3.00M197.14 782.20v-5.70M197.14 575.00v5.70M213.97 782.20v-3.00M213.97 575.00v3.00M230.80 782.20v-3.00M230.80 575.00v3.00M247.63 782.20v-3.00M247.63 575.00v3.00M264.46 782.20v-3.00M264.46 575.00v3.00M281.29 782.20v-5.70M281.29 575.00v5.70M298.12 782.20v-3.00M298.12 575.00v3.00M314.95 782.20v-3.00M314.95 575.00v3.00M331.78 782.20v-3.00M331.78 575.00v3.00M348.61 782.20v-3.00M348.61 575.00v3.00M365.44 782.20v-5.70M365.44 575.00v5.70M382.27 782.20v-3.00M382.27 575.00v3.00M399.10 782.20v-3.00M399.10 575.00v3.00M46.50 778.75h3.00M402.50 778.75h-3.00M46.50 772.70h5.70M402.50 772.70h-5.70M46.50 766.65h3.00M402.50 766.65h-3.00M46.50 760.60h3.00M402.50 760.60h-3.00M46.50 754.55h3.00M402.50 754.55h-3.00M46.50 748.50h5.70M402.50 748.50h-5.70M46.50 742.45h3.00M402.50 742.45h-3.00M46.50 736.40h3.00M402.50 736.40h-3.00M46.50 730.35h3.00M402.50 730.35h-3.00M46.50 724.30h5.70M402.50 724.30h-5.70M46.50 718.25h3.00M402.50 718.25h-3.00M46.50 712.20h3.00M402.50 712.20h-3.00M46.50 706.15h3.00M402.50 706.15h-3.00M46.50 700.10h5.70M402.50 700.10h-5.70M46.50 694.05h3.00M402.50 694.05h-3.00M46.50 688.00h3.00M402.50 688.00h-3.00M46.50 681.95h3.00M402.50 681.95h-3.00M46.50 675.90h5.70M402.50 675.90h-5.70M46.50 669.85h3.00M402.50 669.85h-3.00M46.50 663.80h3.00M402.50 663.80h-3.00M46.50 657.75h3.00M402.50 657.75h-3.00M46.50 651.70h5.70M402.50 651.70h-5.70M46.50 645.65h3.00M402.50 645.65h-3.00M46.50 639.60h3.00M402.50 639.60h-3.00M46.50 633.55h3.00M402.50 633.55h-3.00M46.50 627.50h5.70M402.50 627.50h-5.70M46.50 621.45h3.00M402.50 621.45h-3.00M46.50 615.40h3.00M402.50 615.40h-3.00M46.50 609.35h3.00M402.50 609.35h-3.00M46.50 603.30h5.70M402.50 603.30h-5.70M46.50 597.25h3.00M402.50 597.25h-3.00M46.50 591.20h3.00M402.50 591.20h-3.00M46.50 585.15h3.00M402.50 585.15h-3.00M46.50 579.10h5.70M402.50 579.10h-5.70" stroke="#000" stroke-width="1.05" fill="none"/>
<rect x="46.50" y="575.00" width="356.00" height="207.20" fill="none" stroke="#000" stroke-width="1.25"/>
<text x="112.99" y="802.90" text-anchor="middle" textLength="43.32" lengthAdjust="spacingAndGlyphs">−0.5</text>
<text x="197.14" y="802.90" text-anchor="middle" textLength="11.58" lengthAdjust="spacingAndGlyphs">0</text>
<text x="281.29" y="802.90" text-anchor="middle" textLength="28.96" lengthAdjust="spacingAndGlyphs">0.5</text>
<text x="365.44" y="802.90" text-anchor="middle" textLength="11.58" lengthAdjust="spacingAndGlyphs">1</text>
<text x="40.70" y="778.20" text-anchor="end" textLength="11.58" lengthAdjust="spacingAndGlyphs">0</text>
<text x="40.70" y="754.00" text-anchor="end" textLength="40.54" lengthAdjust="spacingAndGlyphs">0.02</text>
<text x="40.70" y="729.80" text-anchor="end" textLength="40.54" lengthAdjust="spacingAndGlyphs">0.04</text>
<text x="40.70" y="705.60" text-anchor="end" textLength="40.54" lengthAdjust="spacingAndGlyphs">0.06</text>
<text x="40.70" y="681.40" text-anchor="end" textLength="40.54" lengthAdjust="spacingAndGlyphs">0.08</text>
<text x="40.70" y="657.20" text-anchor="end" textLength="28.96" lengthAdjust="spacingAndGlyphs">0.1</text>
<text x="40.70" y="633.00" text-anchor="end" textLength="40.54" lengthAdjust="spacingAndGlyphs">0.12</text>
<text x="40.70" y="608.80" text-anchor="end" textLength="40.54" lengthAdjust="spacingAndGlyphs">0.14</text>
<text x="40.70" y="584.60" text-anchor="end" textLength="40.54" lengthAdjust="spacingAndGlyphs">0.16</text>
<text x="224.50" y="826.80" font-size="20.5" text-anchor="middle" textLength="31.60" lengthAdjust="spacingAndGlyphs">i−z</text>
<polyline fill="none" stroke="#000" stroke-width="1" stroke-linejoin="miter" points="488.70,772.65 488.70,772.57 495.05,772.57 495.05,772.57 501.40,772.57 501.40,772.57 507.76,772.57 507.76,772.57 514.11,772.57 514.11,772.57 520.46,772.57 520.46,772.57 526.81,772.57 526.81,772.57 533.16,772.57 533.16,772.57 539.52,772.57 539.52,772.57 545.87,772.57 545.87,772.57 552.22,772.57 552.22,772.57 558.57,772.57 558.57,772.57 564.92,772.57 564.92,772.57 571.28,772.57 571.28,772.05 577.63,772.05 577.63,769.97 583.98,769.97 583.98,757.51 590.33,757.51 590.33,713.90 596.68,713.90 596.68,625.63 603.04,625.63 603.04,579.42 609.39,579.42 609.39,583.58 615.74,583.58 615.74,617.33 622.09,617.33 622.09,678.33 628.44,678.33 628.44,710.78 634.80,710.78 634.80,730.51 641.15,730.51 641.15,739.60 647.50,739.60 647.50,751.02 653.85,751.02 653.85,754.92 660.20,754.92 660.20,757.51 666.56,757.51 666.56,761.41 672.91,761.41 672.91,763.22 679.26,763.22 679.26,764.52 685.61,764.52 685.61,764.52 691.96,764.52 691.96,766.34 698.32,766.34 698.32,766.86 704.67,766.86 704.67,766.86 711.02,766.86 711.02,767.64 717.37,767.64 717.37,767.90 723.72,767.90 723.72,768.16 730.08,768.16 730.08,768.42 736.43,768.42 736.43,768.67 742.78,768.67 742.78,768.93 749.13,768.93 749.13,769.19 755.48,769.19 755.48,769.45 761.84,769.45 761.84,769.71 768.19,769.71 768.19,769.71 774.54,769.71 774.54,769.97 780.89,769.97 780.89,769.97 787.24,769.97 787.24,770.23 793.60,770.23 793.60,770.49 799.95,770.49 799.95,770.75 806.30,770.75 806.30,772.31 812.65,772.31"/>
<path d="M472.82 782.20v-3.00M472.82 569.80v3.00M488.70 782.20v-5.70M488.70 569.80v5.70M504.58 782.20v-3.00M504.58 569.80v3.00M520.46 782.20v-3.00M520.46 569.80v3.00M536.34 782.20v-3.00M536.34 569.80v3.00M552.22 782.20v-5.70M552.22 569.80v5.70M568.10 782.20v-3.00M568.10 569.80v3.00M583.98 782.20v-3.00M583.98 569.80v3.00M599.86 782.20v-3.00M599.86 569.80v3.00M615.74 782.20v-5.70M615.74 569.80v5.70M631.62 782.20v-3.00M631.62 569.80v3.00M647.50 782.20v-3.00M647.50 569.80v3.00M663.38 782.20v-3.00M663.38 569.80v3.00M679.26 782.20v-5.70M679.26 569.80v5.70M695.14 782.20v-3.00M695.14 569.80v3.00M711.02 782.20v-3.00M711.02 569.80v3.00M726.90 782.20v-3.00M726.90 569.80v3.00M742.78 782.20v-5.70M742.78 569.80v5.70M758.66 782.20v-3.00M758.66 569.80v3.00M774.54 782.20v-3.00M774.54 569.80v3.00M790.42 782.20v-3.00M790.42 569.80v3.00M806.30 782.20v-5.70M806.30 569.80v5.70M822.18 782.20v-3.00M822.18 569.80v3.00M472.50 772.65h5.70M828.50 772.65h-5.70M472.50 761.16h3.00M828.50 761.16h-3.00M472.50 749.67h3.00M828.50 749.67h-3.00M472.50 738.18h3.00M828.50 738.18h-3.00M472.50 726.69h3.00M828.50 726.69h-3.00M472.50 715.20h5.70M828.50 715.20h-5.70M472.50 703.71h3.00M828.50 703.71h-3.00M472.50 692.22h3.00M828.50 692.22h-3.00M472.50 680.73h3.00M828.50 680.73h-3.00M472.50 669.24h3.00M828.50 669.24h-3.00M472.50 657.75h5.70M828.50 657.75h-5.70M472.50 646.26h3.00M828.50 646.26h-3.00M472.50 634.77h3.00M828.50 634.77h-3.00M472.50 623.28h3.00M828.50 623.28h-3.00M472.50 611.79h3.00M828.50 611.79h-3.00M472.50 600.30h5.70M828.50 600.30h-5.70M472.50 588.81h3.00M828.50 588.81h-3.00M472.50 577.32h3.00M828.50 577.32h-3.00" stroke="#000" stroke-width="1.05" fill="none"/>
<rect x="472.50" y="569.80" width="356.00" height="212.40" fill="none" stroke="#000" stroke-width="1.25"/>
<text x="488.70" y="802.90" text-anchor="middle" textLength="11.58" lengthAdjust="spacingAndGlyphs">0</text>
<text x="552.22" y="802.90" text-anchor="middle" textLength="28.96" lengthAdjust="spacingAndGlyphs">0.2</text>
<text x="615.74" y="802.90" text-anchor="middle" textLength="28.96" lengthAdjust="spacingAndGlyphs">0.4</text>
<text x="679.26" y="802.90" text-anchor="middle" textLength="28.96" lengthAdjust="spacingAndGlyphs">0.6</text>
<text x="742.78" y="802.90" text-anchor="middle" textLength="28.96" lengthAdjust="spacingAndGlyphs">0.8</text>
<text x="806.30" y="802.90" text-anchor="middle" textLength="11.58" lengthAdjust="spacingAndGlyphs">1</text>
<text x="466.70" y="778.15" text-anchor="end" textLength="11.58" lengthAdjust="spacingAndGlyphs">0</text>
<text x="466.70" y="720.70" text-anchor="end" textLength="40.54" lengthAdjust="spacingAndGlyphs">0.05</text>
<text x="466.70" y="663.25" text-anchor="end" textLength="28.96" lengthAdjust="spacingAndGlyphs">0.1</text>
<text x="466.70" y="605.80" text-anchor="end" textLength="40.54" lengthAdjust="spacingAndGlyphs">0.15</text>
<text x="650.50" y="826.80" font-size="20.5" text-anchor="middle" textLength="63.00" lengthAdjust="spacingAndGlyphs">weight</text>
<path d="M74.3 23.10H89.5" stroke="#000" stroke-width="1" fill="none"/>
<text x="98.00" y="29.10" font-size="20.5" textLength="56.00" lengthAdjust="spacingAndGlyphs">photo</text>
<path d="M74.3 38.00H89.5" stroke="#0000ff" stroke-width="1" fill="none"/>
<text x="98.00" y="44.00" font-size="20.5" textLength="48.60" lengthAdjust="spacingAndGlyphs">train</text>
<path d="M74.3 52.90H89.5" stroke="#ff0000" stroke-width="1" fill="none"/>
<text x="98.00" y="58.90" font-size="20.5" textLength="87.00" lengthAdjust="spacingAndGlyphs">weighted</text>
<text x="196.60" y="58.90" font-size="20.5" textLength="48.00" lengthAdjust="spacingAndGlyphs">train</text>
</svg>
</body></html>
